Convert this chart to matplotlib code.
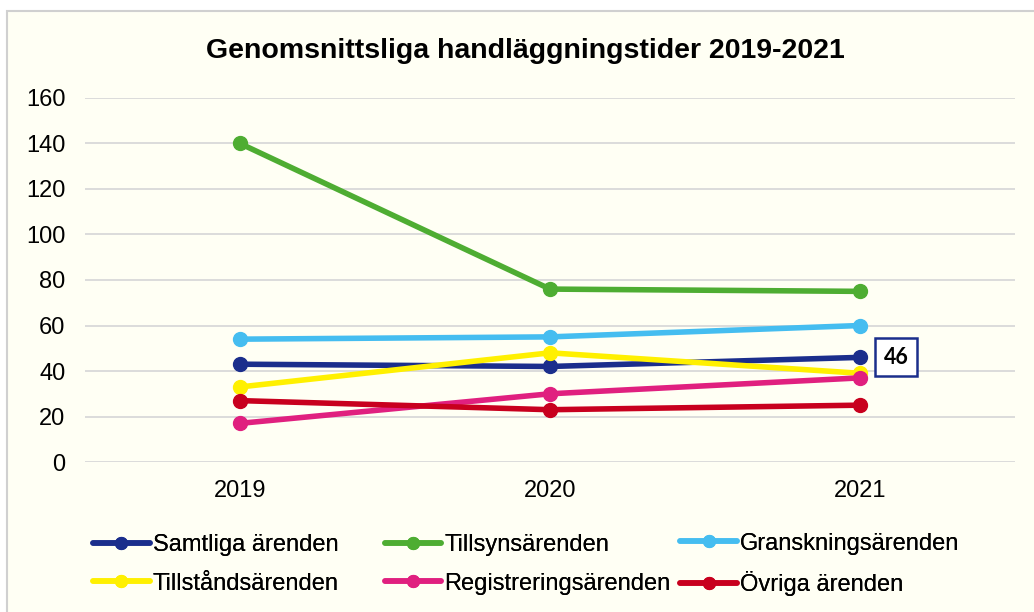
import matplotlib
matplotlib.use("Agg")
import matplotlib.pyplot as plt

years = ["2019", "2020", "2021"]
series_names = ["Samtliga ärenden", "Tillsynsärenden", "Granskningsärenden",
                "Tillståndsärenden", "Registreringsärenden", "Övriga ärenden"]
samtliga = [43, 42, 46]
tillsyn = [140, 76, 75]
granskning = [54, 55, 60]
tillstand = [33, 48, 39]
registrering = [17, 30, 37]
ovriga = [27, 23, 25]
colors = ["#1B2E8C", "#4EAD32", "#45BDF0", "#FFF000", "#E0207F", "#C8001E"]
yticks = [0, 20, 40, 60, 80, 100, 120, 140, 160]

bg = "#FFFFF4"
plt.rcParams["font.family"] = ["Liberation Sans", "DejaVu Sans"]

fig = plt.figure(figsize=(10.34, 6.12), dpi=100, facecolor="white")
# chart area: starts a few px in from left/top, cropped at right/bottom
fig.patches.append(plt.Rectangle((7 / 1034, -0.05), 1.1, 1.05 - 11 / 612,
                                 transform=fig.transFigure, fc=bg,
                                 ec="#D0D0D0", lw=1.5, zorder=-10))

ax = fig.add_axes([0.082, 0.245, 0.9, 0.595], facecolor=bg)

x = list(range(len(years)))
handles = []
for name, vals, c in zip(series_names,
                         [samtliga, tillsyn, granskning, tillstand, registrering, ovriga],
                         colors):
    h, = ax.plot(x, vals, color=c, lw=4, marker="o", ms=10, label=name,
                 solid_capstyle="round", zorder=3)
    handles.append(h)

ax.annotate(str(samtliga[-1]), xy=(x[-1], samtliga[-1]), xytext=(26, 0),
            textcoords="offset points", ha="center", va="center",
            fontsize=15.5, fontweight="bold", family=["Lato", "DejaVu Sans"],
            bbox=dict(boxstyle="square,pad=0.4", fc="white", ec="#1B2E8C", lw=1.8))

ax.set_xlim(-0.5, 2.5)
ax.set_ylim(0, 160)
ax.set_yticks(yticks)
ax.set_xticks(x)
ax.set_xticklabels(years)
ax.grid(axis="y", color="#D9D9D9", lw=1.3)
ax.set_axisbelow(True)
for side in ("top", "right", "left", "bottom"):
    ax.spines[side].set_visible(False)
ax.tick_params(length=0, labelsize=17, colors="#000000")
ax.tick_params(axis="y", pad=14)
ax.tick_params(axis="x", pad=13)

fig.text(0.508, 0.917, "Genomsnittsliga handläggningstider 2019-2021",
         ha="center", va="center", fontsize=20.5, fontweight="bold")

# legend: Excel-style fixed columns, row-major order
for col, xa in enumerate([0.09, 0.372, 0.658]):
    hs = [handles[col], handles[col + 3]]
    leg = fig.legend(hs, [h.get_label() for h in hs], loc="center left",
                     bbox_to_anchor=(xa, 0.078), frameon=False, fontsize=17,
                     handlelength=2.4, handletextpad=0.12, labelspacing=0.7,
                     borderpad=0, borderaxespad=0, markerscale=0.85)
    fig.add_artist(leg)

fig.savefig("out.png", dpi=100, facecolor="white")
